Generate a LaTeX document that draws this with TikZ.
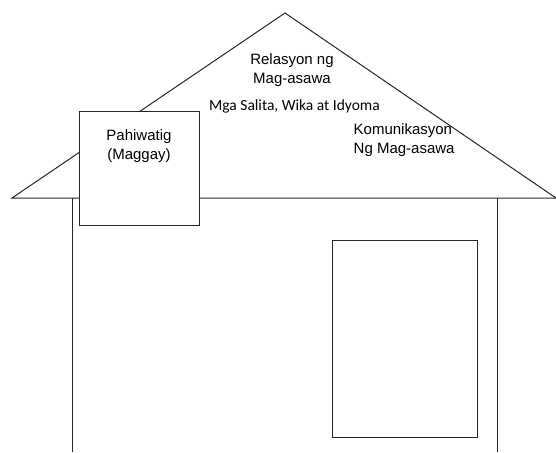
\documentclass[tikz,border=0pt]{standalone}
\usepackage{fontspec}
\setmainfont{Liberation Sans}
\newfontfamily\calib{Carlito}
\begin{document}
\begin{tikzpicture}[x=1pt,y=-1pt,
  outline/.style={draw=black!85,line width=1pt},
  lbl/.style={font=\fontsize{15}{19.5}\selectfont,align=center,inner sep=0pt},
  lbll/.style={font=\fontsize{15}{19}\selectfont,align=left,inner sep=0pt,anchor=north west}]
\useasboundingbox (0,0) rectangle (556,452);
\coordinate (apex) at (285,13);
\coordinate (rl) at (12,198);
\coordinate (rr) at (556,198);
\coordinate (wl) at (72,198);
\coordinate (wlb) at (72,452);
\coordinate (wr) at (497,198);
\coordinate (wrb) at (497,452);
\draw[outline,line join=miter] (rl) -- (apex) -- (rr) -- cycle;
\draw[outline] (wl) -- (wlb);
\draw[outline] (wr) -- (wrb);
\node[outline,fill=white,minimum width=120pt,minimum height=114pt,anchor=north west,inner sep=0pt] (box) at (78.7,110.6) {};
\node[lbl] (pah) at (139,146) {Pahiwatig\\(Maggay)};
\node[outline,minimum width=145pt,minimum height=197pt,anchor=north west,inner sep=0pt] (door) at (332,240) {};
\node[lbl] (rel) at (292,70) {Relasyon ng\\Mag-asawa};
\node[font=\calib\fontsize{15.5}{18}\selectfont,inner sep=0pt,anchor=west] (mga) at (209,106) {Mga Salita, Wika at Idyoma};
\node[lbll] (kom) at (353.5,123) {Komunikasyon\\Ng Mag-asawa};
\end{tikzpicture}
\end{document}
